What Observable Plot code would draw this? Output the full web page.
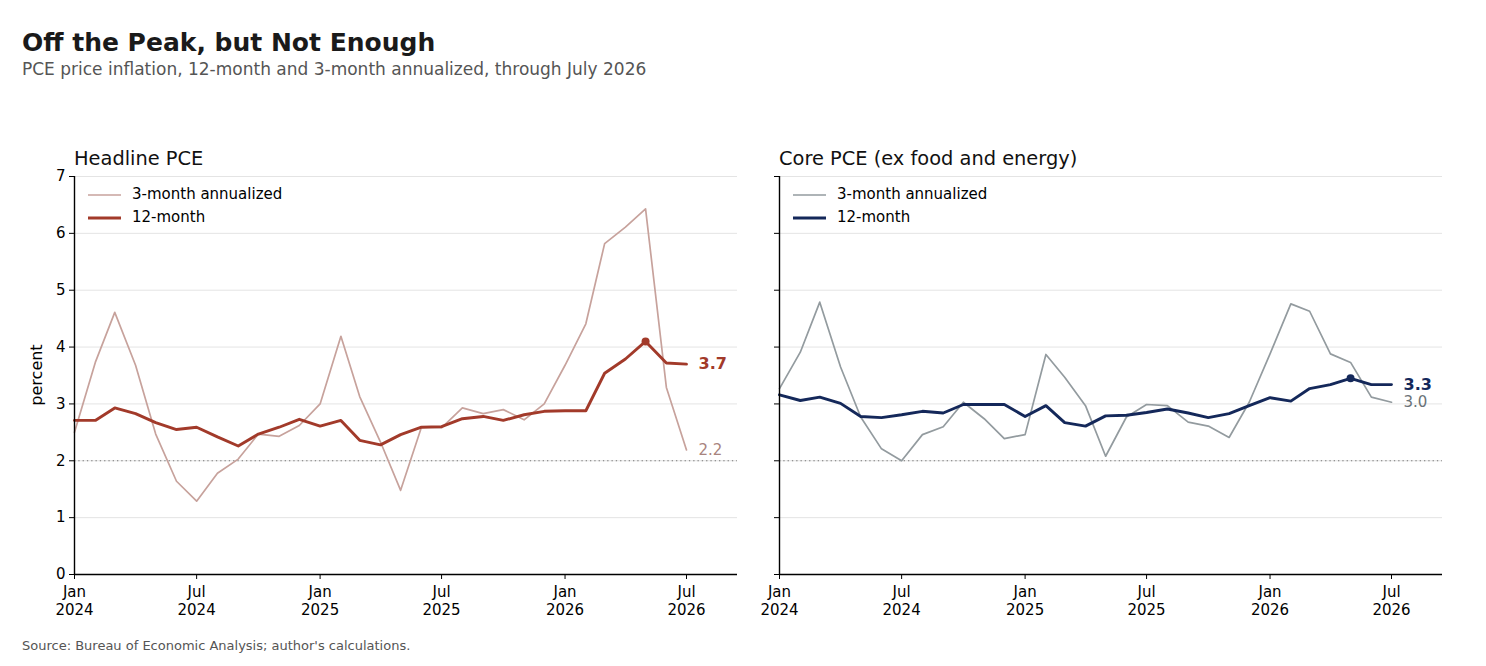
<!DOCTYPE html>
<html><head><meta charset="utf-8">
<script src="https://cdn.jsdelivr.net/npm/d3@7"></script>
<script src="https://cdn.jsdelivr.net/npm/@observablehq/plot@0.6"></script>
<style>
body{margin:0;background:#fff;font-family:"DejaVu Sans",sans-serif;}
#page{position:relative;width:1486px;height:666px;overflow:hidden;background:#fff;}
.abs{position:absolute;white-space:nowrap;line-height:1;}
.leg{position:absolute;font-size:15px;color:#000;line-height:1;}
.leg div{display:flex;align-items:center;height:23px;}
.leg svg{margin-right:11px;}
</style></head><body><div id="page">
<div class="abs" style="left:22px;top:30px;font-size:25px;font-weight:bold;color:#1a1a1a">Off the Peak, but Not Enough</div>
<div class="abs" style="left:22px;top:61px;font-size:17px;color:#555">PCE price inflation, 12-month and 3-month annualized, through July 2026</div>
<div class="abs" style="left:74px;top:149px;font-size:19.4px;color:#111">Headline PCE</div>
<div class="abs" style="left:779px;top:149px;font-size:19.4px;color:#111">Core PCE (ex food and energy)</div>
<div class="abs" style="top:375px;font-size:16px;color:#000;transform:translate(-50%,-50%) rotate(-90deg);transform-origin:center;left:37px">percent</div>
<div id="left" class="abs" style="left:0px;top:166px"></div>
<div id="right" class="abs" style="left:745px;top:166px"></div>
<div id="legL" class="leg" style="left:88px;top:183px"></div>
<div id="legR" class="leg" style="left:793px;top:183px"></div>
<div class="abs" style="left:22px;top:639px;font-size:13px;color:#555">Source: Bureau of Economic Analysis; author's calculations.</div>
</div>
<script>
const months = ["2024-01","2024-02","2024-03","2024-04","2024-05","2024-06","2024-07","2024-08","2024-09","2024-10","2024-11","2024-12",
"2025-01","2025-02","2025-03","2025-04","2025-05","2025-06","2025-07","2025-08","2025-09","2025-10","2025-11","2025-12",
"2026-01","2026-02","2026-03","2026-04","2026-05","2026-06","2026-07"];
const headline3m = [2.50,3.73,4.61,3.68,2.47,1.64,1.29,1.78,2.03,2.47,2.43,2.62,3.00,4.19,3.13,2.33,1.48,2.59,2.58,2.93,2.83,2.90,2.72,3.00,3.68,4.41,5.82,6.11,6.43,3.29,2.19];
const headline12m = [2.71,2.71,2.93,2.83,2.67,2.55,2.59,2.42,2.26,2.47,2.59,2.73,2.61,2.71,2.36,2.28,2.46,2.59,2.60,2.74,2.78,2.71,2.81,2.87,2.88,2.88,3.54,3.79,4.10,3.72,3.70];
const core3m = [3.27,3.91,4.79,3.65,2.77,2.21,2.00,2.46,2.60,3.03,2.74,2.39,2.46,3.87,3.47,2.97,2.08,2.77,2.99,2.97,2.68,2.61,2.41,3.03,3.88,4.76,4.63,3.88,3.73,3.12,3.03];
const core12m = [3.16,3.06,3.12,3.01,2.78,2.76,2.81,2.87,2.84,2.99,2.99,2.99,2.78,2.97,2.67,2.61,2.79,2.80,2.85,2.91,2.84,2.76,2.83,2.97,3.11,3.05,3.27,3.34,3.45,3.34,3.34];
const yTicks = [0,1,2,3,4,5,6,7];
const xTickMonths = ["2024-01","2024-07","2025-01","2025-07","2026-01","2026-07"];
const xDomain = ["2024-01-01","2026-09-15"];
const target = 2;
const legendLabels = ["3-month annualized","12-month"];

const parse = d3.utcParse("%Y-%m");
const fmtMon = d3.utcFormat("%b");

function panel(y3, y12, c3, c12, lab3Color, showY, width, mL, mR) {
  const rows = months.map((m,i)=>({date: parse(m), v3: y3[i], v12: y12[i]}));
  const last = [rows[rows.length-1]];
  const peak = [rows[d3.maxIndex(rows, d=>d.v12)]];
  return Plot.plot({
    width, height: 458, marginLeft: mL, marginRight: mR, marginTop: 10, marginBottom: 50,
    style: {fontFamily: "DejaVu Sans, sans-serif", fontSize: "15px", color: "#000", background: "transparent"},
    x: {type: "utc", domain: xDomain.map(d=>new Date(d))},
    y: {domain: [0,7]},
    marks: [
      Plot.ruleY(yTicks.slice(1), {stroke: "#e4e4e4", strokeWidth: 1}),
      Plot.ruleY([target], {stroke: "#777", strokeWidth: 1.1, strokeDasharray: "1.3,3"}),
      Plot.line(rows, {x: "date", y: "v3", stroke: c3, strokeWidth: 1.7}),
      Plot.line(rows, {x: "date", y: "v12", stroke: c12, strokeWidth: 2.9}),
      Plot.dot(peak, {x: "date", y: "v12", fill: c12, r: 4}),
      Plot.text(last, {x: "date", y: "v12", text: d=>d.v12.toFixed(1), dx: 12, textAnchor: "start", fill: c12, fontWeight: "bold", fontSize: 16}),
      Plot.text(last, {x: "date", y: "v3", text: d=>d.v3.toFixed(1), dx: 12, textAnchor: "start", fill: lab3Color, fontSize: 15}),
      Plot.axisY({ticks: yTicks, tickSize: 5, tickPadding: 4, label: null, fontSize: 15, tickFormat: showY ? (d=>String(d)) : (()=>"")}),
      Plot.axisX({ticks: xTickMonths.map(parse), tickSize: 5, tickPadding: 4, label: null, fontSize: 15, lineHeight: 1.22,
        tickFormat: d => fmtMon(d) + "\n" + d.getUTCFullYear()}),
      Plot.ruleY([0], {stroke: "#000", strokeWidth: 1.4}),
      Plot.ruleX([parse(months[0])], {stroke: "#000", strokeWidth: 1.4})
    ]
  });
}

const hl3 = "#c7a29c", hl12 = "#a23a2a", co3 = "#939b9f", co12 = "#14285a";
document.getElementById("left").append(panel(headline3m, headline12m, hl3, hl12, "#a8847e", true, 745, 74, 8));
document.getElementById("right").append(panel(core3m, core12m, co3, co12, "#6a7277", false, 741, 34, 44));

function legend(el, c3, c12) {
  const items = [[c3, 1.7, legendLabels[0]], [c12, 3.2, legendLabels[1]]];
  for (const [c, w, t] of items) {
    const row = document.createElement("div");
    row.innerHTML = `<svg width="33" height="6"><line x1="0" x2="33" y1="3" y2="3" stroke="${c}" stroke-width="${w}"/></svg><span>${t}</span>`;
    el.append(row);
  }
}
legend(document.getElementById("legL"), hl3, hl12);
legend(document.getElementById("legR"), co3, co12);
</script>
</body></html>
